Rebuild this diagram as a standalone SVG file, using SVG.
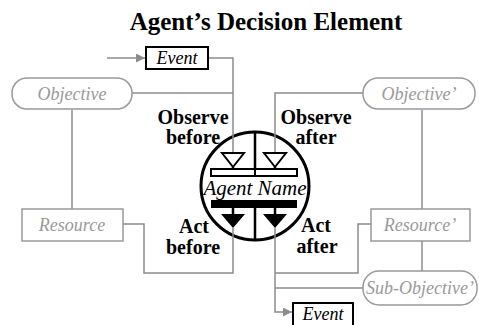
<svg xmlns="http://www.w3.org/2000/svg" width="479" height="325" viewBox="0 0 479 325">
<defs>
<marker id="arr" viewBox="0 0 10 10" refX="10" refY="5" markerWidth="9" markerHeight="9" markerUnits="userSpaceOnUse" orient="auto">
<path d="M0,0 L10,5 L0,10 Z" fill="#8c8c8c"/>
</marker>
<style>
.conn{fill:none;stroke:#8c8c8c;stroke-width:1.5}
.pill{fill:#fff;stroke:#999;stroke-width:1.5}
.gtxt{font-family:"Liberation Serif",serif;font-style:italic;font-size:18px;fill:#999;text-anchor:middle}
.ev{fill:#fff;stroke:#000;stroke-width:2}
.etxt{font-family:"Liberation Serif",serif;font-style:italic;font-size:18px;fill:#000;text-anchor:middle}
.lbl{font-family:"Liberation Serif",serif;font-weight:bold;font-size:20px;fill:#000;text-anchor:middle}
</style>
</defs>
<rect width="479" height="325" fill="#fff"/>
<text x="266" y="30" font-family="Liberation Serif,serif" font-weight="bold" font-size="25" text-anchor="middle">Agent’s Decision Element</text>

<g id="agent-circle"><circle cx="255" cy="186" r="54" fill="#fff" stroke="#000" stroke-width="3"/></g>

<g id="connectors">
<path class="conn" d="M107,58 H145" marker-end="url(#arr)"/>
<path class="conn" d="M208,58 H233 V153"/>
<path class="conn" d="M132,93 H233"/>
<path class="conn" d="M363,93 H275 V153"/>
<path class="conn" d="M72,110 V209"/>
<path class="conn" d="M123,224 H144 V273 H233 V228"/>
<path class="conn" d="M422,110 V209"/>
<path class="conn" d="M371,224 H358 V273 H275"/>
<path class="conn" d="M275,228 V312 H292" marker-end="url(#arr)"/>
<path class="conn" d="M275,288 H363"/>
<path class="conn" d="M422,241 V271"/>
</g>

<g id="agent">
<path d="M255,132 V169 M255,208 V240 M255,169 V176 M233,208 V214 M275,208 V214 M233,167 V169 M275,167 V169" stroke="#000" stroke-width="2.5" fill="none"/>
<rect x="211" y="169" width="86" height="7" fill="#fff" stroke="#000" stroke-width="2"/>
<line x1="255" y1="169" x2="255" y2="176" stroke="#000" stroke-width="2"/>
<rect x="211" y="200" width="86" height="8" fill="#000"/>
<polygon points="222,153 244,153 233,167" fill="#fff" stroke="#000" stroke-width="2"/>
<polygon points="264,153 286,153 275,167" fill="#fff" stroke="#000" stroke-width="2"/>
<polygon points="221,214 245,214 233,228" fill="#000"/>
<polygon points="263,214 287,214 275,228" fill="#000"/>
<text x="255" y="195" font-family="Liberation Serif,serif" font-style="italic" font-size="21" text-anchor="middle">Agent Name</text>
</g>

<g id="event-in"><rect class="ev" x="146" y="47" width="62" height="22"/><text class="etxt" x="177" y="64">Event</text></g>
<g id="event-out"><rect class="ev" x="293" y="303" width="60" height="24"/><text class="etxt" x="323" y="320">Event</text></g>
<g id="objective"><rect class="pill" x="12" y="78" width="120" height="31" rx="15"/><text class="gtxt" x="72" y="100">Objective</text></g>
<g id="objective2"><rect class="pill" x="363" y="78" width="112" height="31" rx="15"/><text class="gtxt" x="419" y="100">Objective’</text></g>
<g id="resource"><rect x="22" y="209" width="101" height="32" fill="#fff" stroke="#999" stroke-width="1.5"/><text class="gtxt" x="72" y="231">Resource</text></g>
<g id="resource2"><rect x="371" y="209" width="99" height="32" fill="#fff" stroke="#999" stroke-width="1.5"/><text class="gtxt" x="420" y="231">Resource’</text></g>
<g id="subobjective"><rect class="pill" x="363" y="271" width="114" height="34" rx="16"/><text class="gtxt" x="420" y="294">Sub-Objective’</text></g>

<g id="labels">
<text class="lbl" x="193" y="124">Observe</text>
<text class="lbl" x="193" y="144">before</text>
<text class="lbl" x="316" y="124">Observe</text>
<text class="lbl" x="316" y="144">after</text>
<text class="lbl" x="194" y="233">Act</text>
<text class="lbl" x="193" y="254">before</text>
<text class="lbl" x="316" y="232">Act</text>
<text class="lbl" x="317" y="253">after</text>
</g>
</svg>
